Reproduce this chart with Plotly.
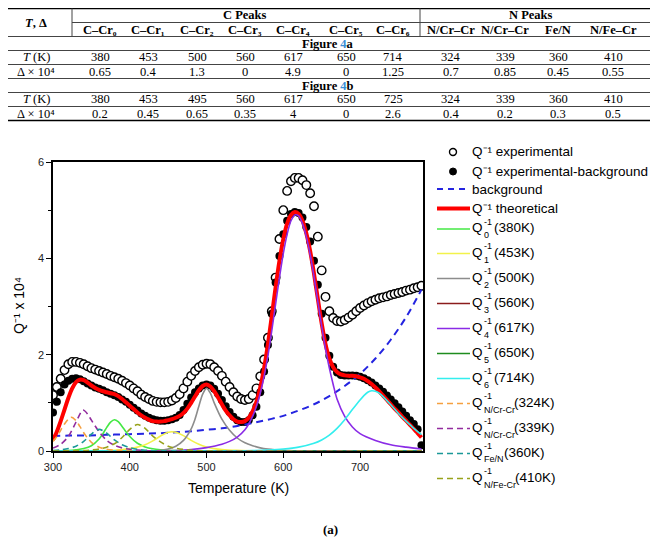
import plotly.graph_objects as go

# ---------------- table data ----------------
table_headers = ["C–Cr₀", "C–Cr₁", "C–Cr₂", "C–Cr₃", "C–Cr₄", "C–Cr₅", "C–Cr₆",
                 "N/Cr–Cr", "N/Cr–Cr", "Fe/N", "N/Fe–Cr"]
T_fig4a = ["380", "453", "500", "560", "617", "650", "714", "324", "339", "360", "410"]
D_fig4a = ["0.65", "0.4", "1.3", "0", "4.9", "0", "1.25", "0.7", "0.85", "0.45", "0.55"]
T_fig4b = ["380", "453", "495", "560", "617", "650", "725", "324", "339", "360", "410"]
D_fig4b = ["0.2", "0.45", "0.65", "0.35", "4", "0", "2.6", "0.4", "0.2", "0.3", "0.5"]

# ---------------- chart data ----------------
T_exp = list(range(300, 781, 5))
Q_exp = [1.16, 1.33, 1.50, 1.68, 1.80, 1.85, 1.85, 1.83, 1.80, 1.76,
         1.72, 1.69, 1.66, 1.63, 1.60, 1.56, 1.53, 1.50, 1.46, 1.41,
         1.36, 1.30, 1.24, 1.17, 1.12, 1.08, 1.04, 1.02, 1.01, 1.01,
         1.02, 1.05, 1.10, 1.18, 1.30, 1.44, 1.56, 1.66, 1.74, 1.79,
         1.81, 1.80, 1.74, 1.66, 1.56, 1.44, 1.33, 1.22, 1.13, 1.08,
         1.06, 1.08, 1.16, 1.30, 1.55, 1.90, 2.35, 2.90, 3.60, 4.40,
         5.00, 5.40, 5.60, 5.67, 5.67, 5.62, 5.52, 5.35, 5.08, 4.45,
         3.75, 3.20, 2.90, 2.76, 2.70, 2.69, 2.72, 2.77, 2.83, 2.90,
         2.97, 3.02, 3.07, 3.11, 3.14, 3.17, 3.19, 3.21, 3.24, 3.26,
         3.28, 3.30, 3.33, 3.35, 3.38, 3.40, 3.43]
Q_exp_bg = [0.80, 1.02, 1.22, 1.38, 1.46, 1.50, 1.51, 1.49, 1.45, 1.40,
            1.36, 1.32, 1.29, 1.26, 1.22, 1.19, 1.16, 1.12, 1.07, 1.02,
            0.96, 0.90, 0.84, 0.78, 0.73, 0.69, 0.66, 0.64, 0.63, 0.63,
            0.64, 0.66, 0.69, 0.75, 0.85, 0.98, 1.11, 1.22, 1.30, 1.36,
            1.38, 1.36, 1.29, 1.19, 1.06, 0.93, 0.81, 0.71, 0.64, 0.60,
            0.60, 0.64, 0.74, 0.92, 1.22, 1.65, 2.20, 2.85, 3.50, 4.05,
            4.50, 4.78, 4.92, 4.96, 4.94, 4.85, 4.65, 4.35, 3.95, 3.45,
            2.85, 2.35, 1.98, 1.75, 1.63, 1.58, 1.57, 1.57, 1.57, 1.56,
            1.54, 1.51, 1.47, 1.42, 1.36, 1.30, 1.23, 1.15, 1.07, 0.99,
            0.91, 0.82, 0.73, 0.64, 0.56, 0.45, 0.12]
Q_theor = [0.23, 0.40, 0.62, 0.86, 1.10, 1.30, 1.43, 1.48, 1.47, 1.42,
           1.36, 1.31, 1.27, 1.24, 1.22, 1.20, 1.18, 1.14, 1.08, 1.01,
           0.94, 0.87, 0.80, 0.74, 0.69, 0.65, 0.62, 0.61, 0.61, 0.62,
           0.64, 0.66, 0.69, 0.73, 0.79, 0.88, 1.00, 1.13, 1.26, 1.35,
           1.38, 1.34, 1.24, 1.11, 0.97, 0.84, 0.74, 0.66, 0.61, 0.60,
           0.62, 0.69, 0.82, 1.02, 1.32, 1.72, 2.22, 2.80, 3.40, 3.95,
           4.40, 4.72, 4.90, 4.96, 4.92, 4.78, 4.52, 4.15, 3.68, 3.16,
           2.65, 2.22, 1.92, 1.74, 1.64, 1.59, 1.57, 1.56, 1.56, 1.55,
           1.53, 1.50, 1.45, 1.39, 1.32, 1.24, 1.15, 1.06, 0.97, 0.88,
           0.80, 0.71, 0.63, 0.54, 0.46, 0.37, 0.28]

T_bg = [300, 320, 340, 360, 380, 400, 420, 440, 460, 480, 500, 520, 540,
        560, 580, 600, 620, 640, 660, 680, 700, 720, 740, 760, 780]
Q_bg = [0.31, 0.32, 0.32, 0.33, 0.34, 0.35, 0.36, 0.37, 0.39, 0.41, 0.44, 0.47, 0.52,
        0.58, 0.65, 0.73, 0.84, 0.97, 1.14, 1.35, 1.60, 1.92, 2.31, 2.78, 3.35]

T_q0 = [300, 310, 320, 330, 340, 350, 360, 365, 370, 375, 380, 385, 390, 395, 400,
        410, 420, 430, 440, 450, 460, 480, 780]
Q_q0 = [0.0, 0.004, 0.01, 0.025, 0.05, 0.11, 0.25, 0.36, 0.49, 0.60, 0.65, 0.61, 0.51, 0.40, 0.30,
        0.16, 0.085, 0.045, 0.025, 0.014, 0.008, 0.0, 0.0]
T_q1 = [300, 340, 360, 380, 400, 410, 420, 430, 440, 450, 455, 460, 470, 480, 490,
        500, 510, 520, 540, 560, 580, 780]
Q_q1 = [0.0, 0.0, 0.005, 0.015, 0.05, 0.08, 0.13, 0.21, 0.31, 0.39, 0.40, 0.39, 0.32, 0.22, 0.14,
        0.085, 0.05, 0.03, 0.012, 0.005, 0.0, 0.0]
T_q2 = [300, 430, 440, 450, 460, 470, 480, 485, 490, 495, 500, 505, 510, 520, 530,
        540, 550, 560, 570, 580, 600, 620, 780]
Q_q2 = [0.0, 0.0, 0.015, 0.04, 0.10, 0.22, 0.46, 0.66, 0.93, 1.18, 1.30, 1.20, 1.00, 0.66, 0.43,
        0.27, 0.17, 0.11, 0.065, 0.04, 0.015, 0.005, 0.0]
T_q3 = [300, 780]
Q_q3 = [0.0, 0.0]
T_q4 = [300, 440, 460, 480, 500, 520, 530, 540, 550, 560, 565, 570, 575, 580, 585,
        590, 595, 600, 605, 610, 615, 620, 625, 630, 635, 640, 645, 650, 655, 660,
        665, 670, 680, 690, 700, 720, 740, 760, 780]
Q_q4 = [0.0, 0.0, 0.01, 0.03, 0.07, 0.14, 0.20, 0.29, 0.44, 0.72, 0.93, 1.20, 1.55, 1.98, 2.50,
        3.05, 3.60, 4.10, 4.50, 4.78, 4.90, 4.88, 4.72, 4.45, 4.08, 3.62, 3.10, 2.60, 2.12, 1.72,
        1.38, 1.08, 0.72, 0.50, 0.36, 0.22, 0.13, 0.08, 0.04]
T_q5 = [300, 780]
Q_q5 = [0.0, 0.0]
T_q6 = [300, 540, 560, 580, 600, 620, 640, 650, 660, 670, 680, 690, 700, 705, 710,
        715, 720, 725, 730, 740, 750, 760, 770, 780]
Q_q6 = [0.0, 0.005, 0.01, 0.02, 0.04, 0.08, 0.16, 0.23, 0.33, 0.47, 0.65, 0.86, 1.06, 1.15, 1.22,
        1.25, 1.24, 1.20, 1.13, 0.96, 0.78, 0.62, 0.47, 0.34]
T_n1 = [300, 305, 310, 315, 320, 324, 330, 335, 340, 345, 350, 360, 370, 380, 390, 400, 780]
Q_n1 = [0.20, 0.30, 0.43, 0.56, 0.66, 0.70, 0.63, 0.51, 0.38, 0.27, 0.18, 0.08, 0.035, 0.015, 0.006, 0.0, 0.0]
T_n2 = [300, 310, 320, 330, 339, 345, 350, 360, 370, 380, 390, 400, 420, 440, 780]
Q_n2 = [0.06, 0.14, 0.30, 0.60, 0.85, 0.77, 0.64, 0.40, 0.22, 0.12, 0.065, 0.035, 0.01, 0.0, 0.0]
T_n3 = [300, 310, 320, 330, 340, 350, 360, 370, 380, 390, 400, 410, 420, 440, 780]
Q_n3 = [0.01, 0.025, 0.05, 0.10, 0.20, 0.35, 0.45, 0.37, 0.23, 0.13, 0.07, 0.035, 0.015, 0.0, 0.0]
T_n4 = [300, 340, 350, 360, 370, 380, 390, 400, 410, 420, 430, 440, 450, 460, 480, 500, 780]
Q_n4 = [0.0, 0.01, 0.02, 0.04, 0.08, 0.15, 0.28, 0.45, 0.55, 0.47, 0.31, 0.19, 0.10, 0.055, 0.015, 0.0, 0.0]

# ---------------- geometry helpers ----------------
# The page body adds an 8 px margin, so the figure is 650x540 and all
# reference-pixel positions are shifted by OFF.
OFF = 8
W, H = 650, 540
ML, MR, MT, MB = 45, 235, 154, 97
PW, PH = W - ML - MR, H - MT - MB
SANS = "Liberation Sans, Arial, sans-serif"
SERIF = "Liberation Serif, Times New Roman, serif"
TSHIFT = 10  # table moved down so its first row fits below the page margin


def fx(x):
    return (x - OFF - ML) / PW


def fy(y):
    return (H - MB - (y - OFF)) / PH


def ty(y):
    return y + TSHIFT


annotations = []
shapes = []


def ann(x, y, text, size=14, family=SANS, xanchor="center", yanchor="middle", color="black", **kw):
    annotations.append(dict(x=fx(x), y=fy(y), xref="paper", yref="paper", text=text,
                            showarrow=False, font=dict(size=size, family=family, color=color),
                            xanchor=xanchor, yanchor=yanchor, borderpad=0, borderwidth=0, **kw))


def seg(x0, y0, x1, y1, color="black", width=1.0, dash=None):
    ln = dict(color=color, width=width)
    if dash:
        ln["dash"] = dash
    shapes.append(dict(type="line", xref="paper", yref="paper", x0=fx(x0), y0=fy(y0),
                       x1=fx(x1), y1=fy(y1), line=ln, layer="above"))


# ---------------- figure ----------------
fig = go.Figure()
fig.add_trace(go.Scatter(x=T_exp, y=Q_exp, mode="markers", name="Q⁻¹ experimental",
                         marker=dict(symbol="circle", size=8.5, color="white",
                                     line=dict(color="black", width=1.4))))
fig.add_trace(go.Scatter(x=T_exp, y=Q_exp_bg, mode="markers", name="Q⁻¹ experimental-background",
                         marker=dict(symbol="circle", size=8, color="black")))
BG_DASH = "7px,5px"
N_DASH = "6px,4px"
fig.add_trace(go.Scatter(x=T_bg, y=Q_bg, mode="lines", name="background",
                         line=dict(color="#2424e0", width=2, dash=BG_DASH, shape="spline")))
fig.add_trace(go.Scatter(x=T_exp, y=Q_theor, mode="lines", name="Q⁻¹ theoretical",
                         line=dict(color="#ff0000", width=4, shape="spline")))

components = [
    ("Q0 (380K)", T_q0, Q_q0, "#44e844", None),
    ("Q1 (453K)", T_q1, Q_q1, "#f2f24a", None),
    ("Q2 (500K)", T_q2, Q_q2, "#8c8c8c", None),
    ("Q3 (560K)", T_q3, Q_q3, "#8b1c1c", None),
    ("Q4 (617K)", T_q4, Q_q4, "#8a2be6", None),
    ("Q5 (650K)", T_q5, Q_q5, "#1e8c1e", None),
    ("Q6 (714K)", T_q6, Q_q6, "#33eeee", None),
    ("QN/Cr-Cr (324K)", T_n1, Q_n1, "#f5a040", N_DASH),
    ("QN/Cr-Cr (339K)", T_n2, Q_n2, "#922c9e", N_DASH),
    ("QFe/N (360K)", T_n3, Q_n3, "#1a9898", N_DASH),
    ("QN/Fe-Cr (410K)", T_n4, Q_n4, "#98a21a", N_DASH),
]
for name, tx, qy, col, dash in components:
    ln = dict(color=col, width=1.6, shape="spline", smoothing=0.8)
    if dash:
        ln["dash"] = dash
    fig.add_trace(go.Scatter(x=tx, y=qy, mode="lines", name=name, line=ln))

# ---------------- table ----------------
col_x = [100, 148, 197, 245, 293, 346, 393, 451, 505, 558, 613]
TS = 12.5
ROW_Y = [5.5, 19.5, 33.5, 47.5, 61.5, 75.5, 89.5, 103.5]
ann(36, ty(12.5), "<b><i>T</i>, Δ</b>", size=TS, family=SERIF)
ann(245, ty(ROW_Y[0]), "<b>C Peaks</b>", size=TS, family=SERIF)
ann(531, ty(ROW_Y[0]), "<b>N Peaks</b>", size=TS, family=SERIF)
for cx, h in zip(col_x, table_headers):
    ann(cx, ty(ROW_Y[1]), "<b>" + h + "</b>", size=TS, family=SERIF)
ann(328, ty(ROW_Y[2]), "<b>Figure <span style='color:#3a8fd6'>4</span>a</b>", size=TS, family=SERIF)
ann(328, ty(ROW_Y[5]), "<b>Figure <span style='color:#3a8fd6'>4</span>b</b>", size=TS, family=SERIF)
for yrow, lab, vals in [(ROW_Y[3], "<i>T</i> (K)", T_fig4a), (ROW_Y[4], "Δ × 10⁴", D_fig4a),
                        (ROW_Y[6], "<i>T</i> (K)", T_fig4b), (ROW_Y[7], "Δ × 10⁴", D_fig4b)]:
    ann(36, ty(yrow), lab, size=TS, family=SERIF)
    for cx, v in zip(col_x, vals):
        ann(cx, ty(yrow), v, size=TS, family=SERIF)

seg(8, ty(-1.5), 655, ty(-1.5), width=1.5)
seg(72, ty(12.5), 655, ty(12.5), color="#444", width=1)
for yl in [26.5, 40.5, 54.5, 68.5, 82.5, 96.5]:
    seg(8, ty(yl), 655, ty(yl), color="#444", width=1)
seg(8, ty(110.5), 655, ty(110.5), width=1.5)
seg(72, ty(-1.5), 72, ty(26.5), color="#444", width=1)
seg(420, ty(-1.5), 420, ty(26.5), color="#444", width=1)

# ---------------- custom legend ----------------
LX0, LX1, TX = 437, 470, 472
LS = 13.5
shapes.append(dict(type="circle", xref="paper", yref="paper",
                   x0=fx(449.5), x1=fx(456.5), y0=fy(155.5), y1=fy(148.5),
                   line=dict(color="black", width=1.4), fillcolor="white", layer="above"))
ann(TX, 152, "Q⁻¹ experimental", size=LS, xanchor="left")
shapes.append(dict(type="circle", xref="paper", yref="paper",
                   x0=fx(449.5), x1=fx(456.5), y0=fy(175), y1=fy(168),
                   line=dict(color="black", width=1), fillcolor="black", layer="above"))
ann(TX, 171.5, "Q⁻¹ experimental-background", size=LS, xanchor="left")
seg(LX0, 189, LX1, 189, color="#2424e0", width=2, dash="6px,5px")
ann(TX, 189, "background", size=LS, xanchor="left")
seg(LX0, 208.5, LX1, 208.5, color="#ff0000", width=4)
ann(TX, 208.5, "Q⁻¹ theoretical", size=LS, xanchor="left")

leg_rows = [
    (229, "0", "(380K)", 494), (253.5, "1", "(453K)", 494), (278.5, "2", "(500K)", 494),
    (303.5, "3", "(560K)", 494), (328.5, "4", "(617K)", 494), (353.5, "5", "(650K)", 494),
    (378.5, "6", "(714K)", 494), (403.5, "N/Cr-Cr", "(324K)", 514),
    (428.5, "N/Cr-Cr", "(339K)", 514), (453.5, "Fe/N", "(360K)", 504),
    (478.5, "N/Fe-Cr", "(410K)", 515),
]
for (yc, sub, rest, rx), (_, _, _, col, dash) in zip(leg_rows, components):
    seg(LX0, yc, LX1, yc, color=col, width=1.6, dash=("6px,4px" if dash else None))
    ann(TX, yc - 1.5, "Q", size=LS, xanchor="left")
    ann(483.5, yc - 7.5, "-1", size=9, xanchor="left")
    ann(483.5, yc + 6, sub, size=9, xanchor="left")
    ann(rx, yc - 1.5, rest, size=LS, xanchor="left")

# ---------------- axis titles / caption ----------------
ann(19, 306, "Q⁻¹ x 10⁴", size=14, textangle=-90)
ann(238, 488, "Temperature (K)", size=14)
ann(330, 529, "<b>(a)</b>", size=13, family=SERIF)

fig.update_layout(
    width=W, height=H, margin=dict(l=ML, r=MR, t=MT, b=MB, autoexpand=False),
    paper_bgcolor="white", plot_bgcolor="white", showlegend=False,
    annotations=annotations, shapes=shapes,
    font=dict(family=SANS, color="black"),
    xaxis=dict(range=[300, 782], tickvals=[300, 400, 500, 600, 700], ticks="outside",
               ticklen=5, tickwidth=1.3, tickcolor="black", showline=True, linecolor="black",
               linewidth=1.5, mirror=True, showgrid=False, zeroline=False,
               tickfont=dict(size=11, family=SANS, color="#222"),
               minor=dict(tickvals=[350, 450, 550, 650, 750], ticks="outside", ticklen=3,
                          tickcolor="black", showgrid=False)),
    yaxis=dict(range=[0, 6], tickvals=[0, 2, 4, 6], ticks="outside", ticklen=5, tickwidth=1.3,
               tickcolor="black", showline=True, linecolor="black", linewidth=1.5, mirror=True,
               showgrid=False, zeroline=False, tickfont=dict(size=11, family=SANS, color="#222"),
               minor=dict(tickvals=[1, 3, 5], ticks="outside", ticklen=3, tickcolor="black",
                          showgrid=False)),
)

fig.write_html("out.html")
